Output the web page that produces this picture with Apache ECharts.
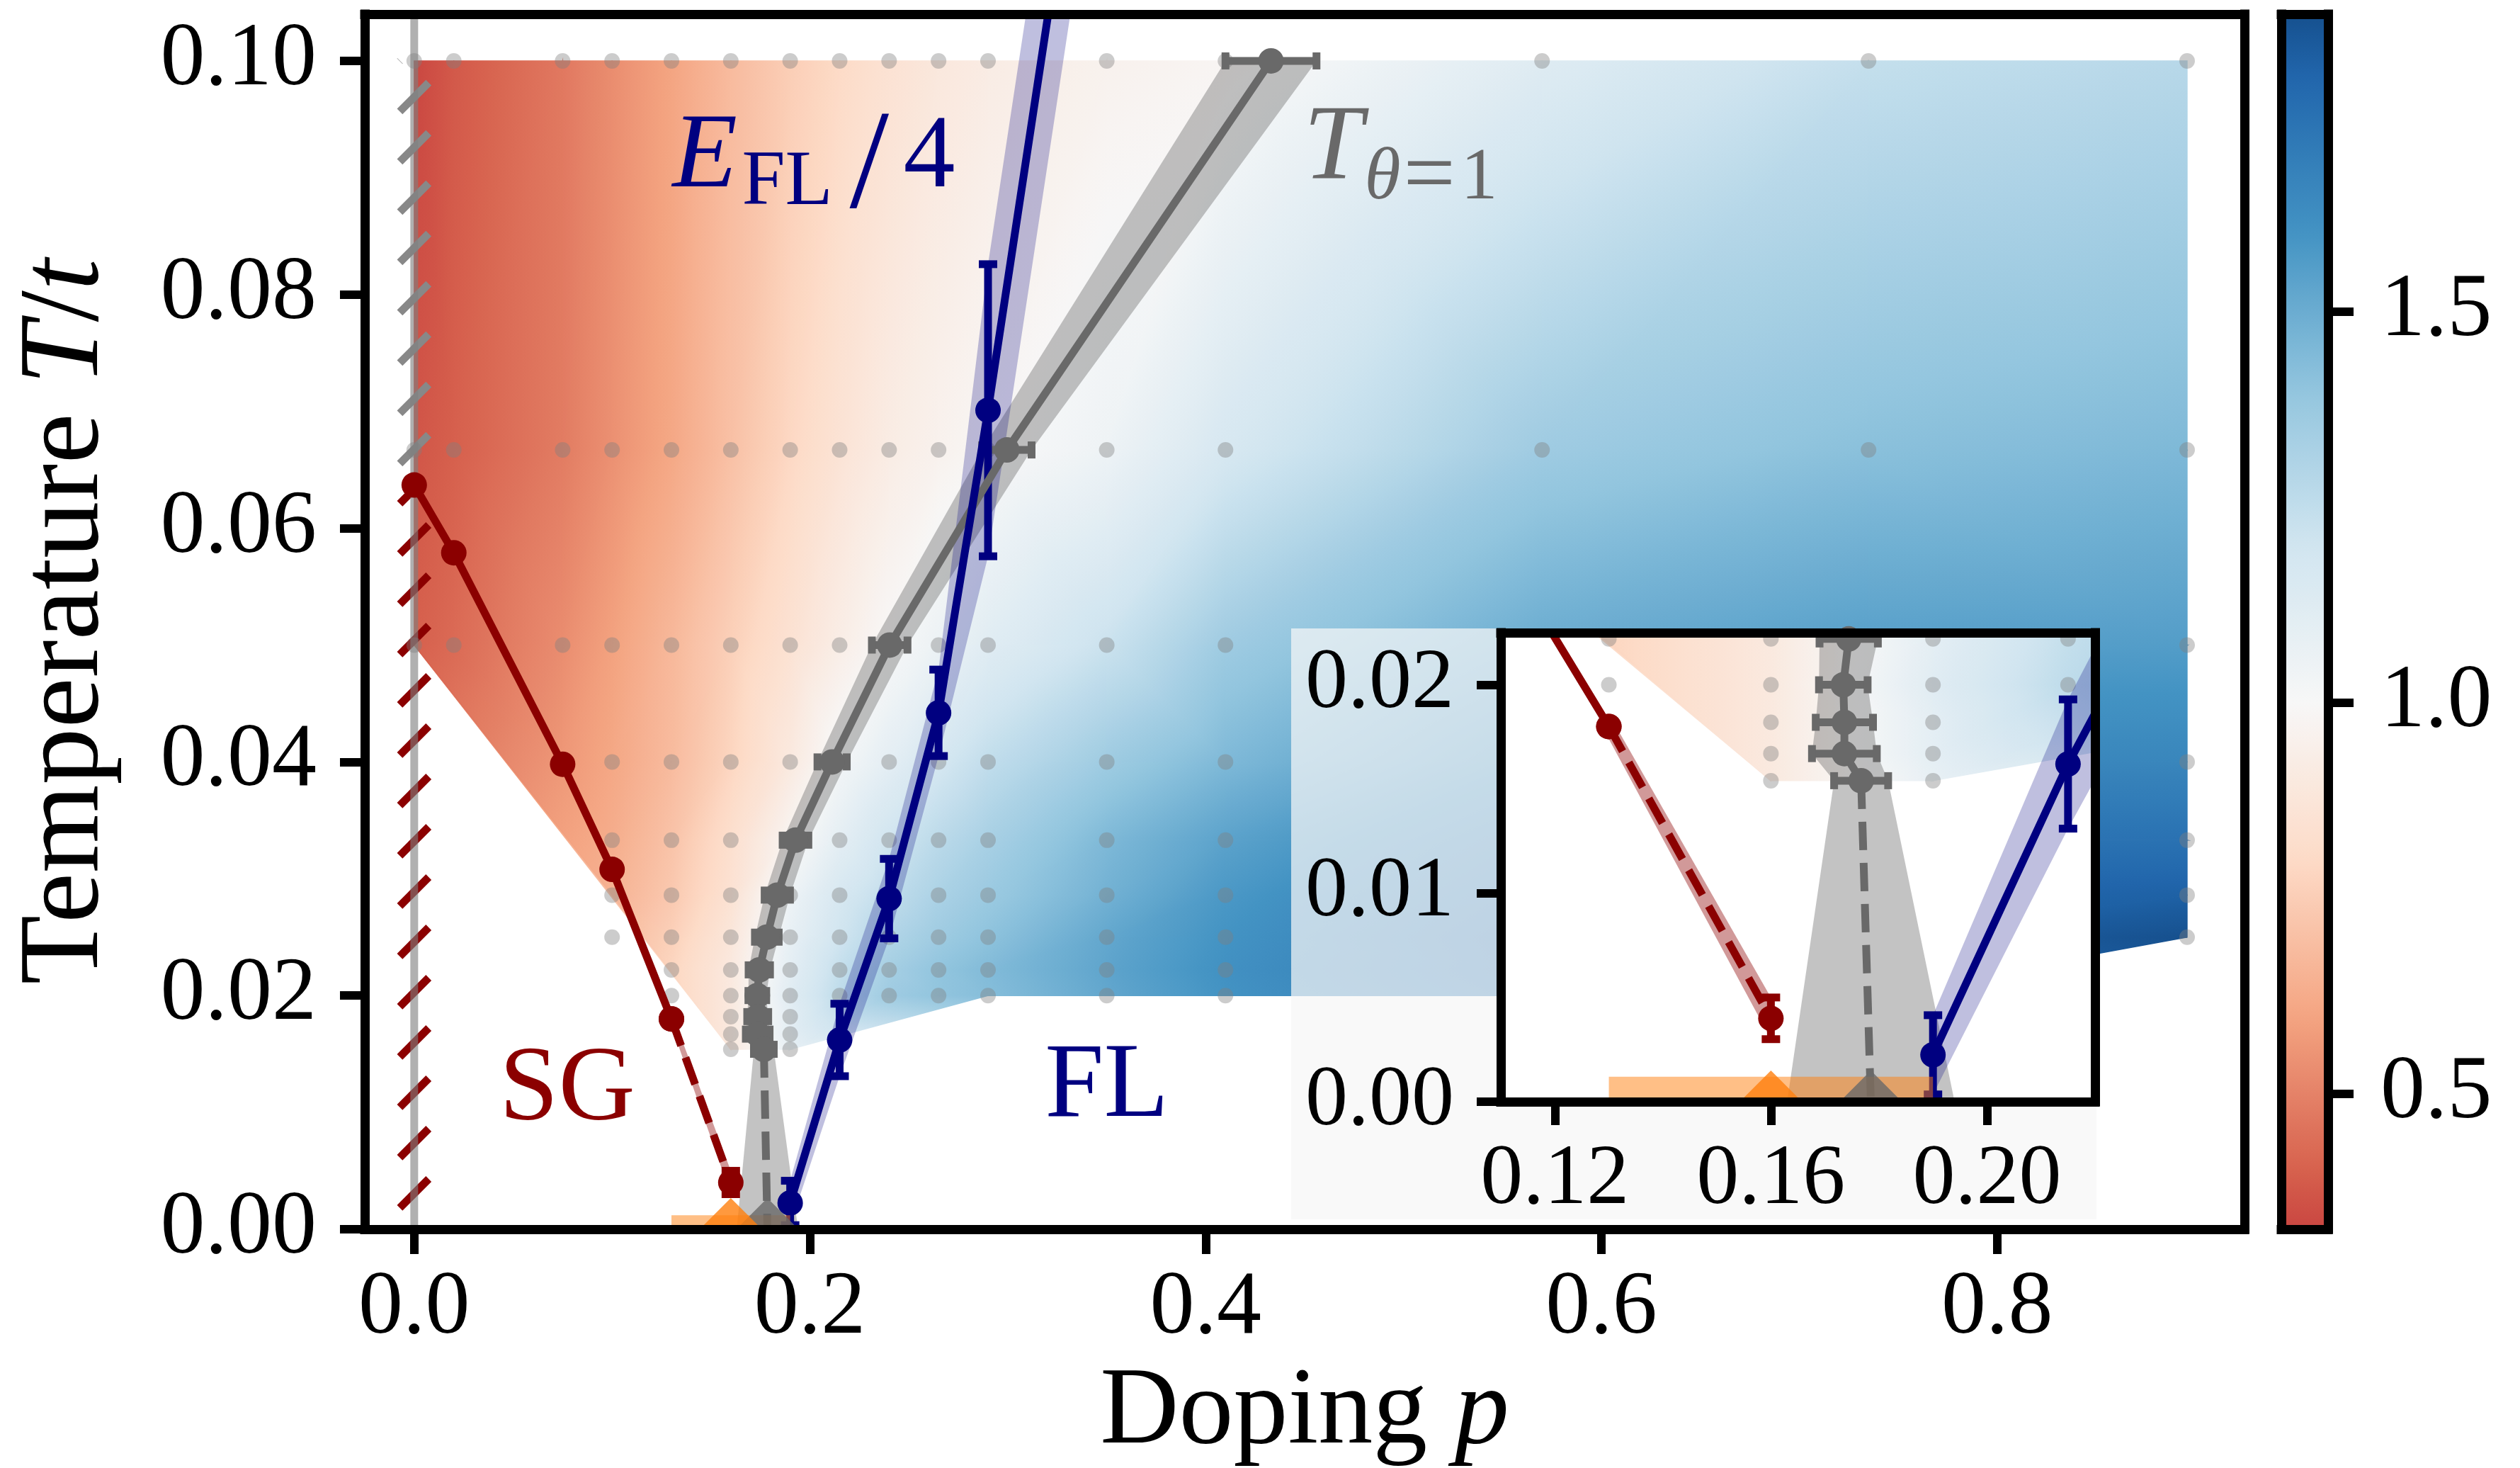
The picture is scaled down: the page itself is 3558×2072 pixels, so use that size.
<!DOCTYPE html>
<html><head><meta charset="utf-8"><title>phase diagram</title>
<script src="https://cdn.jsdelivr.net/npm/echarts@6.0.0/dist/echarts.min.js"></script>
<style>html,body{margin:0;padding:0;background:#fff;}#chart{width:3558px;height:2072px;}</style>
</head><body><div id="chart"></div>
<script>
// ------------------------- DATA -------------------------
const dopingCols = [0, 0.02, 0.075, 0.10, 0.13, 0.16, 0.19, 0.215, 0.24, 0.265, 0.29, 0.35, 0.41, 0.57, 0.735, 0.896];
const tempRows   = [0.1, 0.0667, 0.05, 0.04, 0.0333, 0.0286, 0.025, 0.0222, 0.02, 0.0182, 0.0167, 0.0154];
// exponent theta on the simulation grid (null = not available)
const thetaRows = [
  [0.33,0.38,0.47,0.53,0.60,0.68,0.75,0.80,0.85,0.89,0.92,0.96,0.98,1.13,1.24,1.28],
  [0.37,0.40,0.48,0.54,0.61,0.70,0.79,0.86,0.92,0.96,0.99,1.05,1.17,1.36,1.42,1.45],
  [0.40,0.43,0.53,0.59,0.67,0.76,0.85,0.93,1.00,1.06,1.12,1.22,1.36,1.50,1.55,1.56],
  [null,null,0.56,0.61,0.68,0.78,0.90,1.02,1.10,1.18,1.25,1.36,1.45,1.60,1.65,1.66],
  [null,null,null,0.63,0.71,0.83,0.98,1.10,1.20,1.27,1.33,1.45,1.54,1.68,1.73,1.75],
  [null,null,null,0.65,0.73,0.85,1.05,1.17,1.25,1.32,1.37,1.48,1.58,1.72,1.79,1.82],
  [null,null,null,null,0.76,0.88,1.08,1.20,1.30,1.36,1.41,1.52,1.60,1.75,1.82,1.88],
  [null,null,null,null,0.78,0.90,1.10,1.24,1.34,1.40,1.44,1.53,1.61,1.74,1.80,null],
  [null,null,null,null,null,0.90,1.12,1.26,1.36,1.40,1.43,1.52,1.60,1.72,1.78,null],
  [null,null,null,null,null,0.90,1.10,null,null,null,null,null,null,null,null,null],
  [null,null,null,null,null,0.90,1.10,null,null,null,null,null,null,null,null,null],
  [null,null,null,null,null,0.90,1.08,null,null,null,null,null,null,null,null,null]
];
// outline of the region where theta is shown
const fieldOutlineP = [0, 0.896, 0.896, 0.735, 0.29, 0.19, 0.16, 0];
const fieldOutlineT = [0.1, 0.1, 0.025, 0.02, 0.02, 0.0154, 0.0154, 0.05];
// simulated (p,T) points (grey dots), one list of dopings per temperature row
const dotDopings = [
  dopingCols, dopingCols, dopingCols,
  [0.075,0.10,0.13,0.16,0.19,0.215,0.24,0.265,0.29,0.35,0.41,0.57,0.735,0.896],
  [0.10,0.13,0.16,0.19,0.215,0.24,0.265,0.29,0.35,0.41,0.57,0.735,0.896],
  [0.10,0.13,0.16,0.19,0.215,0.24,0.265,0.29,0.35,0.41,0.57,0.735,0.896],
  [0.10,0.13,0.16,0.19,0.215,0.24,0.265,0.29,0.35,0.41,0.57,0.735,0.896],
  [0.13,0.16,0.19,0.215,0.24,0.265,0.29,0.35,0.41,0.57,0.735],
  [0.13,0.16,0.19,0.215,0.24,0.265,0.29,0.35,0.41,0.57,0.735],
  [0.16,0.19], [0.16,0.19], [0.16,0.19]
];
// spin glass boundary (dark red)
const sgP = [0, 0.02, 0.075, 0.10, 0.13];
const sgT = [0.0637, 0.0579, 0.0398, 0.0308, 0.018];
const sgExtP = [0.13, 0.16];
const sgExtT = [0.018, 0.004];
const sgExtErr = [0.0006, 0.001];
// E_FL/4 (navy) with T error
const flP   = [0.19, 0.215, 0.24, 0.265, 0.29, 0.35];
const flT   = [0.00225, 0.0162, 0.0283, 0.0442, 0.0701, 0.137];
const flErr = [0.0019, 0.0031, 0.0034, 0.0037, 0.0125, 0.0125];
// T_{theta=1} (dim grey) with doping error
const th1T   = [0.1, 0.0667, 0.05, 0.04, 0.0333, 0.0286, 0.025, 0.0222, 0.02, 0.0182, 0.0167, 0.0154];
const th1P   = [0.433, 0.2995, 0.2403, 0.2112, 0.1927, 0.1835, 0.1782, 0.1744, 0.1734, 0.1736, 0.1736, 0.1767];
const th1Err = [0.023, 0.0125, 0.009, 0.0074, 0.0065, 0.0064, 0.006, 0.0054, 0.0045, 0.0053, 0.006, 0.005];
const th1ExtP = [0.1767, 0.1785];
const th1ExtT = [0.0154, 0];
const th1ExtErr = [0.005, 0.0155];
// critical dopings at T = 0
const pCritSG = 0.16, pCritTheta = 0.1785;
const pCritRange = [0.13, 0.19], pCritBarT = 0.0012;
// hatched column at p = 0
const hatchTempEdges = [0, 0.0637, 0.1];
const hatchHalfWidth = 0.0073;
// annotations
const annoP = [0.1305, 0.4495, 0.043, 0.3187];
const annoT = [0.0886, 0.0893, 0.0087, 0.0090];
// axes
const mainX = [-0.025, 0.925], mainY = [0, 0.104];
const insetX = [0.11, 0.22], insetY = [0, 0.0225];
const cbRange = [0.327, 1.88];
const xTickVals = [0, 0.2, 0.4, 0.6, 0.8];
const yTickVals = [0, 0.02, 0.04, 0.06, 0.08, 0.1];
const insetXTicks = [0.12, 0.16, 0.20];
const insetYTicks = [0, 0.01, 0.02];
const cbTicks = [0.5, 1.0, 1.5];
const normRange = [0, 2];

// ------------------------- STYLE -------------------------
const FONT = '"Liberation Serif","DejaVu Serif",serif';
const NAVY = '#000080', DARKRED = '#8b0000', DIMGRAY = '#696969', ORANGE = '#ff7f0e';
const RDBU = ['#67001f','#b2182b','#d6604d','#f4a582','#fddbc7','#f7f7f7','#d1e5f0','#92c5de','#4393c3','#2166ac','#053061'];
const RDBU_RGB = RDBU.map(h => [1,3,5].map(i => parseInt(h.substr(i,2),16)));
function cmap(v){
  let t = (v - normRange[0]) / (normRange[1] - normRange[0]);
  t = Math.max(0, Math.min(1, t));
  const s = t * 10, i = Math.min(9, Math.floor(s)), f = s - i;
  const a = RDBU_RGB[i], b = RDBU_RGB[i+1];
  return 'rgb(' + [0,1,2].map(k => Math.round(a[k] + (b[k]-a[k])*f)).join(',') + ')';
}

// ------------------------- GEOMETRY HELPERS -------------------------
function clipPoly(pts, r){
  const planes = [[0, r.x, 1], [0, r.x + r.width, -1], [1, r.y, 1], [1, r.y + r.height, -1]];
  let out = pts;
  for (const [ax, b, s] of planes){
    const inp = out; out = [];
    for (let i = 0; i < inp.length; i++){
      const P = inp[i], Q = inp[(i+1) % inp.length];
      const pin = s*(P[ax]-b) >= 0, qin = s*(Q[ax]-b) >= 0;
      if (pin) out.push(P);
      if (pin !== qin){ const t = (b - P[ax]) / (Q[ax] - P[ax]); out.push([P[0] + t*(Q[0]-P[0]), P[1] + t*(Q[1]-P[1])]); }
    }
    if (!out.length) break;
  }
  return out;
}
function clipSeg(A, B, r){
  let t0 = 0, t1 = 1; const dx = B[0]-A[0], dy = B[1]-A[1];
  const p = [-dx, dx, -dy, dy], q = [A[0]-r.x, r.x+r.width-A[0], A[1]-r.y, r.y+r.height-A[1]];
  for (let i = 0; i < 4; i++){
    if (p[i] === 0){ if (q[i] < 0) return null; }
    else { const t = q[i]/p[i]; if (p[i] < 0){ if (t > t1) return null; if (t > t0) t0 = t; } else { if (t < t0) return null; if (t < t1) t1 = t; } }
  }
  return [[A[0]+t0*dx, A[1]+t0*dy], [A[0]+t1*dx, A[1]+t1*dy]];
}
function circum(a, b, c){
  const ax=a[0],ay=a[1],bx=b[0],by=b[1],cx=c[0],cy=c[1];
  const d = 2*(ax*(by-cy)+bx*(cy-ay)+cx*(ay-by));
  const ux = ((ax*ax+ay*ay)*(by-cy)+(bx*bx+by*by)*(cy-ay)+(cx*cx+cy*cy)*(ay-by))/d;
  const uy = ((ax*ax+ay*ay)*(cx-bx)+(bx*bx+by*by)*(ax-cx)+(cx*cx+cy*cy)*(bx-ax))/d;
  return [ux, uy, (ax-ux)*(ax-ux)+(ay-uy)*(ay-uy)];
}
function delaunay(P){
  const n = P.length;
  let minX=Infinity,minY=Infinity,maxX=-Infinity,maxY=-Infinity;
  P.forEach(p => {minX=Math.min(minX,p[0]);maxX=Math.max(maxX,p[0]);minY=Math.min(minY,p[1]);maxY=Math.max(maxY,p[1]);});
  const dm = Math.max(maxX-minX, maxY-minY), mx=(minX+maxX)/2, my=(minY+maxY)/2;
  const pts = P.concat([[mx-30*dm, my-dm], [mx, my+30*dm], [mx+30*dm, my-dm]]);
  let tris = [[n, n+1, n+2]].map(t => ({v:t, c:circum(pts[t[0]],pts[t[1]],pts[t[2]])}));
  for (let i = 0; i < n; i++){
    const [px, py] = pts[i];
    const bad = [], keep = [];
    for (const t of tris){ ((px-t.c[0])**2 + (py-t.c[1])**2 < t.c[2] ? bad : keep).push(t); }
    const edges = [];
    for (const t of bad){
      const v = t.v;
      for (const [a, b] of [[v[0],v[1]],[v[1],v[2]],[v[2],v[0]]]){
        const k = edges.findIndex(e => (e[0]===b && e[1]===a) || (e[0]===a && e[1]===b));
        if (k >= 0) edges.splice(k, 1); else edges.push([a, b]);
      }
    }
    tris = keep;
    for (const e of edges){ const v = [e[0], e[1], i]; tris.push({v, c:circum(pts[v[0]],pts[v[1]],pts[v[2]])}); }
  }
  return tris.map(t => t.v).filter(v => v[0] < n && v[1] < n && v[2] < n);
}
function inOutline(p, T){
  let inside = false;
  for (let i = 0, j = fieldOutlineP.length-1; i < fieldOutlineP.length; j = i++){
    const xi = fieldOutlineP[i], yi = fieldOutlineT[i], xj = fieldOutlineP[j], yj = fieldOutlineT[j];
    if ((yi > T) !== (yj > T) && p < (xj-xi)*(T-yi)/(yj-yi) + xi) inside = !inside;
  }
  return inside;
}

// ------------------------- DERIVED SERIES DATA -------------------------
const triNodes = [];
tempRows.forEach((T, j) => dopingCols.forEach((p, i) => { const v = thetaRows[j][i]; if (v != null) triNodes.push([p, T, v]); }));
const triPts = triNodes.map((nd, k) => [nd[0]*2800 + ((k*37)%17)*0.013, nd[1]*16500 + ((k*53)%19)*0.011]);
const triData = delaunay(triPts).filter(t => {
  const cp = (triNodes[t[0]][0]+triNodes[t[1]][0]+triNodes[t[2]][0])/3;
  const cT = (triNodes[t[0]][1]+triNodes[t[1]][1]+triNodes[t[2]][1])/3;
  return inOutline(cp, cT);
}).map(t => triNodes[t[0]].concat(triNodes[t[1]], triNodes[t[2]]));

const dotData = [];
tempRows.forEach((T, j) => dotDopings[j].forEach(p => dotData.push([p, T])));

const grayBandPts = [];
th1P.forEach((p, i) => grayBandPts.push([p - th1Err[i], th1T[i]]));
grayBandPts.push([th1ExtP[1] - th1ExtErr[1], th1ExtT[1]]);
grayBandPts.push([th1ExtP[1] + th1ExtErr[1], th1ExtT[1]]);
for (let i = th1P.length-1; i >= 0; i--) grayBandPts.push([th1P[i] + th1Err[i], th1T[i]]);

const blueBandPts = [];
flP.forEach((p, i) => blueBandPts.push([p, flT[i] + flErr[i]]));
for (let i = flP.length-1; i >= 0; i--) blueBandPts.push([flP[i], flT[i] - flErr[i]]);

const redBandPts = [];
sgExtP.forEach((p, i) => redBandPts.push([p, sgExtT[i] + sgExtErr[i]]));
for (let i = sgExtP.length-1; i >= 0; i--) redBandPts.push([sgExtP[i], sgExtT[i] - sgExtErr[i]]);

const grayErrData = th1P.map((p, i) => [p, th1T[i], th1Err[i]]);
const blueErrData = flP.slice(0, 5).map((p, i) => [p, flT[i], flErr[i]]);
const redErrData  = [[sgExtP[1], sgExtT[1], sgExtErr[1]]];

// ------------------------- RENDERERS -------------------------
function renderTri(params, api){
  const d = []; for (let i = 0; i < 9; i++) d.push(api.value(i));
  const P = [api.coord([d[0], d[1]]), api.coord([d[3], d[4]]), api.coord([d[6], d[7]])];
  const V = [d[2], d[5], d[8]];
  const [x0,y0] = P[0], [x1,y1] = P[1], [x2,y2] = P[2];
  const det = (x1-x0)*(y2-y0) - (x2-x0)*(y1-y0);
  if (Math.abs(det) < 1e-9) return null;
  const a = ((V[1]-V[0])*(y2-y0) - (V[2]-V[0])*(y1-y0)) / det;
  const b = ((x1-x0)*(V[2]-V[0]) - (x2-x0)*(V[1]-V[0])) / det;
  const g2 = a*a + b*b;
  const vlo = Math.min(...V), vhi = Math.max(...V);
  let fill;
  if (vhi - vlo < 1e-6 || g2 < 1e-18) fill = cmap(vlo);
  else {
    const sx = x0 + (vlo-V[0])*a/g2, sy = y0 + (vlo-V[0])*b/g2;
    const ex = x0 + (vhi-V[0])*a/g2, ey = y0 + (vhi-V[0])*b/g2;
    const n = Math.max(2, Math.ceil((vhi-vlo)/0.02));
    const stops = [];
    for (let k = 0; k <= n; k++) stops.push({offset: k/n, color: cmap(vlo + (vhi-vlo)*k/n)});
    fill = new echarts.graphic.LinearGradient(sx, sy, ex, ey, stops, true);
  }
  const poly = clipPoly(P, params.coordSys);
  if (poly.length < 3) return null;
  return {type:'polygon', shape:{points:poly}, style:{fill:fill, stroke:fill, lineWidth:1.4}, silent:true};
}
function bandSeries(xi, yi, z, pts, color){
  return {type:'custom', xAxisIndex:xi, yAxisIndex:yi, z:z, silent:true, clip:true, data:[pts[0]],
    renderItem:(params, api) => {
      const poly = clipPoly(pts.map(q => api.coord(q)), params.coordSys);
      if (poly.length < 3) return null;
      return {type:'polygon', shape:{points:poly}, style:{fill:color}};
    }};
}
function errSeries(xi, yi, z, data, dir, color){
  return {type:'custom', xAxisIndex:xi, yAxisIndex:yi, z:z, silent:true, clip:true, data:data,
    renderItem:(params, api) => {
      const p = api.value(0), T = api.value(1), e = api.value(2), r = params.coordSys;
      let A, B, caps;
      if (dir === 'y'){
        A = api.coord([p, T-e]); B = api.coord([p, T+e]);
        caps = [[[A[0]-13, A[1]], [A[0]+13, A[1]]], [[B[0]-13, B[1]], [B[0]+13, B[1]]]];
      } else {
        A = api.coord([p-e, T]); B = api.coord([p+e, T]);
        caps = [[[A[0], A[1]-12], [A[0], A[1]+12]], [[B[0], B[1]-12], [B[0], B[1]+12]]];
      }
      const kids = [];
      [[A, B]].concat(caps).forEach(sg => {
        const c = clipSeg(sg[0], sg[1], r);
        if (c) kids.push({type:'line', shape:{x1:c[0][0], y1:c[0][1], x2:c[1][0], y2:c[1][1]}, style:{stroke:color, lineWidth:11}});
      });
      return {type:'group', children:kids};
    }};
}
function lineSeries(xi, yi, z, data, color, dashed, markers){
  return {type:'line', xAxisIndex:xi, yAxisIndex:yi, z:z, silent:true, clip:true, data:data,
    symbol: markers ? 'circle' : 'none', symbolSize:36, showAllSymbol:true, showSymbol:!!markers,
    lineStyle:{color:color, width:11, type: dashed ? [40, 18] : 'solid'},
    itemStyle:{color:color, borderWidth:0}, emphasis:{disabled:true}};
}
function plotSeries(xi, yi, zb){
  const S = [];
  S.push({type:'custom', xAxisIndex:xi, yAxisIndex:yi, z:zb+1, silent:true, clip:true, data:triData, renderItem:renderTri});
  S.push({type:'scatter', xAxisIndex:xi, yAxisIndex:yi, z:zb+3, silent:true, clip:true, symbolSize:22,
    itemStyle:{color:'rgba(128,128,128,0.5)'}, data:dotData});
  S.push(bandSeries(xi, yi, zb+4, grayBandPts, 'rgba(105,105,105,0.4)'));
  S.push(bandSeries(xi, yi, zb+4, blueBandPts, 'rgba(0,0,128,0.25)'));
  S.push(bandSeries(xi, yi, zb+4, redBandPts, 'rgba(139,0,0,0.4)'));
  S.push(errSeries(xi, yi, zb+5, grayErrData, 'x', DIMGRAY));
  S.push(errSeries(xi, yi, zb+5, blueErrData, 'y', NAVY));
  S.push(errSeries(xi, yi, zb+5, redErrData, 'y', DARKRED));
  S.push(lineSeries(xi, yi, zb+6, sgP.map((p,i) => [p, sgT[i]]), DARKRED, false, true));
  S.push(lineSeries(xi, yi, zb+6, sgExtP.map((p,i) => [p, sgExtT[i]]), DARKRED, true, true));
  S.push(lineSeries(xi, yi, zb+6, th1ExtP.map((p,i) => [p, th1ExtT[i]]), DIMGRAY, true, false));
  S.push(lineSeries(xi, yi, zb+6, th1P.map((p,i) => [p, th1T[i]]), DIMGRAY, false, true));
  S.push(lineSeries(xi, yi, zb+6, flP.map((p,i) => [p, flT[i]]), NAVY, false, true));
  S.push({type:'custom', xAxisIndex:xi, yAxisIndex:yi, z:zb+7, silent:true, clip:true,
    data:[[pCritRange[0], 0]],
    renderItem:(params, api) => {
      const pts = [[pCritRange[0], -pCritBarT], [pCritRange[1], -pCritBarT], [pCritRange[1], pCritBarT], [pCritRange[0], pCritBarT]].map(q => api.coord(q));
      const poly = clipPoly(pts, params.coordSys);
      if (poly.length < 3) return null;
      return {type:'polygon', shape:{points:poly}, style:{fill:'rgba(255,127,14,0.5)'}};
    }});
  S.push({type:'scatter', xAxisIndex:xi, yAxisIndex:yi, z:zb+8, silent:true, clip:false,
    symbol:'path://M0,44 L44,0 L88,44 Z', symbolSize:[88, 44], symbolOffset:[0, -22],
    data:[{value:[pCritTheta, 0], itemStyle:{color:DIMGRAY}}, {value:[pCritSG, 0], itemStyle:{color:ORANGE}}]});
  return S;
}
function txt(x, base, s, size, italic, color){
  return {type:'text', x:x, y:base - 0.3375*size,
    style:{text:s, font:(italic ? 'italic ' : '') + size + 'px ' + FONT, fill:color, align:'left', verticalAlign:'middle'}};
}
function renderAnno(params, api){
  const c = api.coord([api.value(0), api.value(1)]), k = api.value(2);
  const x = c[0], y = c[1];
  let kids;
  if (k === 0) kids = [txt(x, y, 'E', 150, true, NAVY), txt(x+98, y+22, 'FL', 110, false, NAVY),
                       txt(x+250, y+33, '/', 200, false, NAVY), txt(x+326, y, '4', 146, false, NAVY)];
  else if (k === 1) kids = [txt(x, y, 'T', 150, true, DIMGRAY), txt(x+86, y+25, 'θ', 104, true, DIMGRAY),
                       txt(x+141, y+34, '=', 130, false, DIMGRAY), txt(x+222, y+25, '1', 104, false, DIMGRAY)];
  else if (k === 2) kids = [txt(x, y, 'SG', 150, false, DARKRED)];
  else kids = [txt(x, y, 'FL', 150, false, NAVY)];
  return {type:'group', children:kids};
}

// ------------------------- SERIES -------------------------
const series = [];
plotSeries(0, 0, 0).forEach(s => series.push(s));
// hatched column at p = 0
series.push({type:'custom', xAxisIndex:0, yAxisIndex:0, z:2, silent:true, clip:true, data:[[0, 0]],
  renderItem:(params, api) => {
    const colors = [DARKRED, '#888888'];
    const xl = api.coord([-hatchHalfWidth, 0])[0], xr = api.coord([hatchHalfWidth, 0])[0], w = xr - xl;
    const kids = [];
    for (let k = 0; k < hatchTempEdges.length-1; k++){
      const yb = api.coord([0, hatchTempEdges[k]])[1], yt = api.coord([0, hatchTempEdges[k+1]])[1];
      const band = {x:xl, y:yt, width:w, height:yb-yt};
      for (let y = yb + w; y > yt; y -= 71){
        const s = clipSeg([xl, y], [xr, y - w], band);
        if (s) kids.push({type:'line', shape:{x1:s[0][0], y1:s[0][1], x2:s[1][0], y2:s[1][1]}, style:{stroke:colors[k], lineWidth:11}});
      }
    }
    return {type:'group', children:kids};
  }});
series.push({type:'line', xAxisIndex:0, yAxisIndex:0, z:3, silent:true, clip:true, symbol:'none',
  data:[[0, mainY[0]], [0, mainY[1]]], lineStyle:{color:'rgba(128,128,128,0.62)', width:11}});
series.push({type:'custom', xAxisIndex:0, yAxisIndex:0, z:9, silent:true, clip:false,
  data:annoP.map((p, i) => [p, annoT[i], i]), renderItem:renderAnno});
// inset background (translucent label box + white axes face)
series.push({type:'custom', xAxisIndex:2, yAxisIndex:2, z:10, silent:true, clip:false, data:[[insetX[0], insetY[0]]],
  renderItem:(params) => {
    const r = params.coordSys;
    return {type:'group', children:[
      {type:'rect', shape:{x:r.x-296, y:r.y-6, width:r.width+298, height:r.height+172}, style:{fill:'rgba(246,246,246,0.72)'}},
      {type:'rect', shape:{x:r.x, y:r.y, width:r.width, height:r.height}, style:{fill:'#ffffff'}}
    ]};
  }});
plotSeries(2, 2, 10).forEach(s => series.push(s));
// colour bar
series.push({type:'custom', xAxisIndex:4, yAxisIndex:4, z:1, silent:true, clip:false, data:[[0, cbRange[0]]],
  renderItem:(params, api) => {
    const a = api.coord([0, cbRange[1]]), b = api.coord([1, cbRange[0]]);
    const stops = [];
    for (let k = 0; k <= 60; k++) stops.push({offset:k/60, color:cmap(cbRange[0] + (cbRange[1]-cbRange[0])*k/60)});
    return {type:'rect', shape:{x:a[0], y:a[1], width:b[0]-a[0], height:b[1]-a[1]},
      style:{fill:new echarts.graphic.LinearGradient(0, 1, 0, 0, stops)}};
  }});

// ------------------------- AXES -------------------------
function axis(grid, pos, range, extra){
  return Object.assign({type:'value', gridIndex:grid, position:pos, min:range[0], max:range[1], z:30,
    axisLine:{show:true, onZero:false, lineStyle:{color:'#000', width:13, cap:'square'}},
    axisTick:{show:false}, axisLabel:{show:false}, splitLine:{show:false}, axisPointer:{show:false}}, extra || {});
}
function ticks(vals, len, margin, size, digits){
  return {
    axisTick:{show:true, inside:false, length:len, lineStyle:{color:'#000', width:12}, customValues:vals},
    axisLabel:{show:true, customValues:vals, margin:margin, fontSize:size, fontFamily:FONT, color:'#000',
      formatter:v => Number(v).toFixed(digits)}
  };
}
function nameStyle(sz){
  return {fontSize:sz, fontFamily:FONT, color:'#000',
    rich:{r:{fontSize:sz, fontFamily:FONT, color:'#000'}, i:{fontSize:sz, fontFamily:FONT, fontStyle:'italic', color:'#000'}}};
}
const xAxes = [
  axis(0, 'bottom', mainX, Object.assign(ticks(xTickVals, 35, 50, 126, 1),
    {name:'{r|Doping }{i|p}', nameLocation:'middle', nameGap:184, nameTextStyle:nameStyle(154)})),
  axis(0, 'top', mainX),
  axis(1, 'bottom', insetX, ticks(insetXTicks, 33, 51, 120, 2)),
  axis(1, 'top', insetX),
  axis(2, 'bottom', [0, 1]),
  axis(2, 'top', [0, 1])
];
const yAxes = [
  axis(0, 'left', mainY, Object.assign(ticks(yTickVals, 35, 68, 126, 2),
    {name:'{r|Temperature }{i|T}{r|/}{i|t}', nameLocation:'middle', nameGap:340, nameTextStyle:nameStyle(160)})),
  axis(0, 'right', mainY),
  axis(1, 'left', insetY, ticks(insetYTicks, 34, 66, 120, 2)),
  axis(1, 'right', insetY),
  axis(2, 'left', cbRange),
  axis(2, 'right', cbRange, ticks(cbTicks, 36, 74, 126, 1))
];

const chart = echarts.init(document.getElementById('chart'), null, {renderer:'canvas', width:3558, height:2072});
chart.setOption({
  animation:false,
  backgroundColor:'#ffffff',
  grid:[
    {left:515, top:20, width:2654, height:1715, outerBoundsMode:'none', containLabel:false},
    {left:2119, top:893, width:839, height:662, outerBoundsMode:'none', containLabel:false},
    {left:3221, top:20, width:66, height:1715, outerBoundsMode:'none', containLabel:false}
  ],
  xAxis:xAxes,
  yAxis:yAxes,
  series:series
});
</script></body></html>
